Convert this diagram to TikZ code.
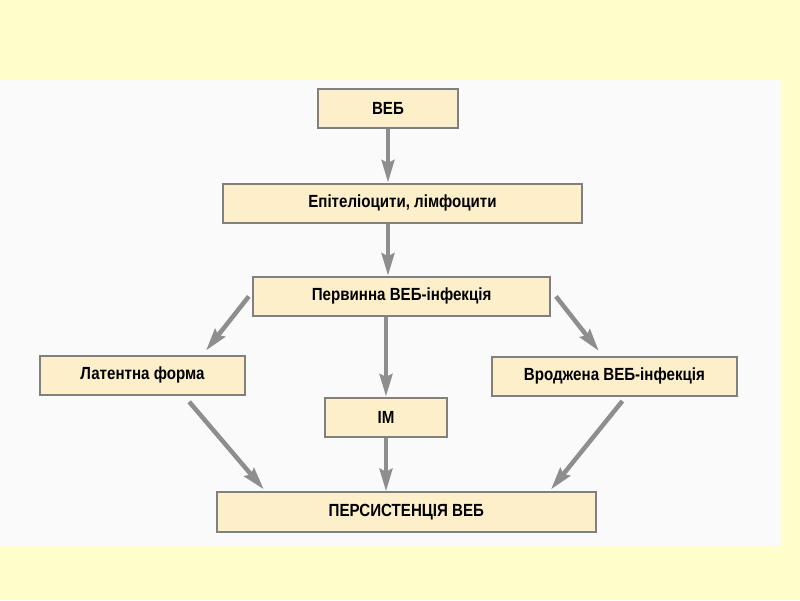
\documentclass[tikz,border=0pt]{standalone}
\usepackage{fontspec}
\setmainfont{Liberation Sans}[FakeStretch=0.86]
\usetikzlibrary{arrows.meta}
\definecolor{bgyellow}{HTML}{FFFFCC}
\definecolor{panelgray}{HTML}{FAFAFA}
\definecolor{boxfill}{HTML}{FCEFC9}
\definecolor{boxline}{HTML}{808080}
\definecolor{arrowgray}{HTML}{8E8E8E}
\begin{document}
\begin{tikzpicture}[line width=0.6pt,
  every node/.style={font=\fontsize{12.5}{14}\selectfont\bfseries},
  stage/.style={draw=boxline, line width=1.4pt, fill=boxfill, inner sep=0pt, minimum height=0.98cm},
  flow/.style={draw=arrowgray, line width=3.2pt, -{Stealth[length=16pt, width=9pt, inset=2pt]}}]
  % background and light panel
  \fill[bgyellow] (0,0) rectangle (20,-15);
  \fill[panelgray] (0,-2) rectangle (19.53,-13.65);
  % boxes
  \node[stage, minimum width=3.5cm]   (veb)  at (9.7,-2.71)     {ВЕБ};
  \node[stage, minimum width=8.98cm]  (epi)  at (10.06,-5.08)   {Епітеліоцити, лімфоцити};
  \node[stage, minimum width=7.43cm]  (perv) at (10.04,-7.41)   {Первинна ВЕБ-інфекція};
  \node[stage, minimum width=5.13cm]  (lat)  at (3.56,-9.38)    {Латентна форма};
  \node[stage, minimum width=3.05cm]  (im)   at (9.65,-10.43)   {ІМ};
  \node[stage, minimum width=6.13cm]  (vroj) at (15.36,-9.41)   {Вроджена ВЕБ-інфекція};
  \node[stage, minimum width=9.48cm]  (pers) at (10.16,-12.8)   {ПЕРСИСТЕНЦІЯ ВЕБ};
  % vertical arrows
  \draw[flow] (veb.south) -- (veb.south |- epi.north);
  \draw[flow] (veb.south |- epi.south) -- (veb.south |- perv.north);
  \draw[flow] (im.north |- perv.south) -- (im.north);
  \draw[flow] (im.south) -- (im.south |- pers.north);
  % diagonal arrows
  \draw[flow] ([xshift=-0.08cm]perv.west) -- ([xshift=-1cm, yshift=0.1cm]lat.north east);
  \draw[flow] ([xshift=0.12cm]perv.east) -- ([xshift=2.7cm, yshift=0.12cm]vroj.north west);
  \draw[flow] ([xshift=-1.42cm, yshift=-0.15cm]lat.south east) -- ([xshift=1.2cm, yshift=0.05cm]pers.north west);
  \draw[flow] ([xshift=0.2cm, yshift=-0.1cm]vroj.south) -- ([xshift=-1.15cm, yshift=0.05cm]pers.north east);
\end{tikzpicture}
\end{document}
